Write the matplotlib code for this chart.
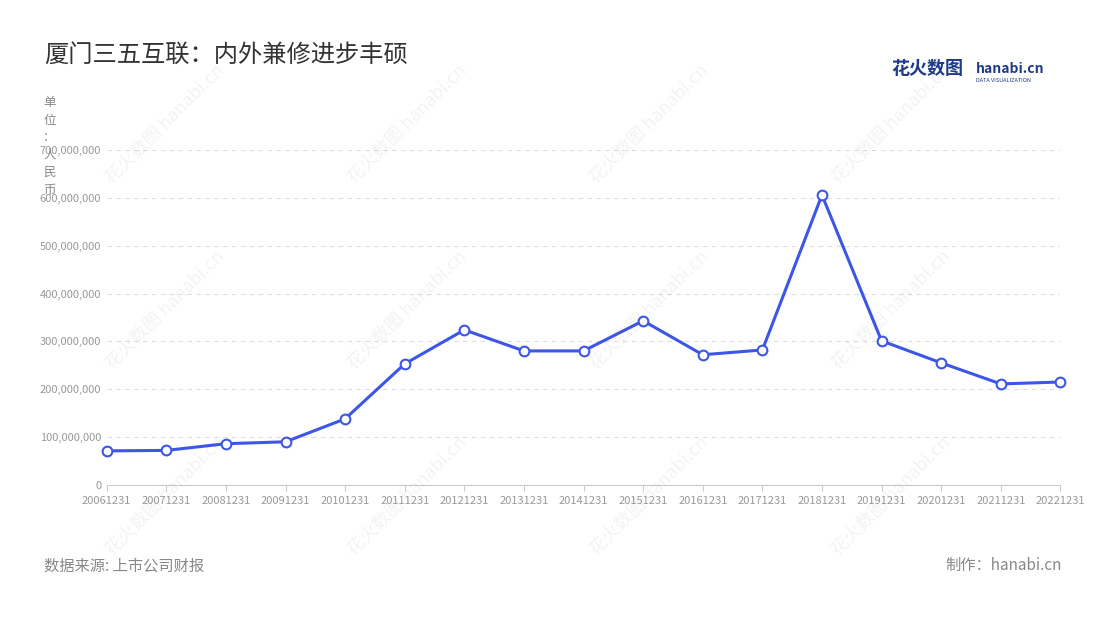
import matplotlib.pyplot as plt
from matplotlib.ticker import FuncFormatter

plt.rcParams['font.family'] = ['Noto Sans CJK SC', 'DejaVu Sans']

years = ['20061231', '20071231', '20081231', '20091231', '20101231', '20111231',
         '20121231', '20131231', '20141231', '20151231', '20161231', '20171231',
         '20181231', '20191231', '20201231', '20211231', '20221231']
values = [71e6, 72e6, 86e6, 90e6, 138e6, 253e6, 324e6, 280e6, 280e6, 343e6,
          272e6, 282e6, 606e6, 301e6, 255e6, 211e6, 215e6]

fig = plt.figure(figsize=(11, 6.2), dpi=100)
ax = fig.add_axes([0.097, 0.218, 0.867, 0.54])

x = list(range(len(years)))
ax.plot(x, values, color='#3d56e8', lw=2.2, marker='o', ms=7,
        mfc='white', mec='#3d56e8', mew=1.5, zorder=3, clip_on=False)

ax.set_xlim(0, len(years) - 1)
ax.set_ylim(0, 700e6)
ax.set_yticks(range(0, 700000001, 100000000))
ax.yaxis.set_major_formatter(FuncFormatter(lambda v, p: f'{int(v):,}'))
ax.set_xticks(x)
ax.set_xticklabels(years)
ax.tick_params(axis='both', labelsize=8, colors='#999999', length=0, pad=4)
ax.tick_params(axis='x', length=4, color='#cccccc')
ax.grid(axis='y', ls=(0, (4, 4)), color='#dddddd', lw=0.8)
for s in ['top', 'right', 'left']:
    ax.spines[s].set_visible(False)
ax.spines['bottom'].set_color('#cccccc')

fig.text(0.04, 0.9, '厦门三五互联：内外兼修进步丰硕', fontsize=17.5, color='#333333')
fig.text(0.045, 0.845, '\n'.join('单位：人民币'), fontsize=9, color='#888888',
         va='top', ha='center', linespacing=1.45)
fig.text(0.04, 0.08, '数据来源: 上市公司财报', fontsize=11, color='#888888')
fig.text(0.965, 0.08, '制作：hanabi.cn', fontsize=11, color='#888888', ha='right')
fig.text(0.81, 0.88, '花火数图', fontsize=13, color='#1f3a8a', weight='bold')
fig.text(0.887, 0.883, 'hanabi.cn', fontsize=10, color='#1f3a8a', weight='bold')
fig.text(0.887, 0.868, 'DATA VISUALIZATION', fontsize=4, color='#1f3a8a')

for wx in [0.15, 0.37, 0.59, 0.81]:
    for wy in [0.8, 0.5, 0.2]:
        fig.text(wx, wy, '花火数图 hanabi.cn', fontsize=13, color='#000000',
                 alpha=0.05, rotation=45, ha='center', va='center')

fig.savefig('out.png')
